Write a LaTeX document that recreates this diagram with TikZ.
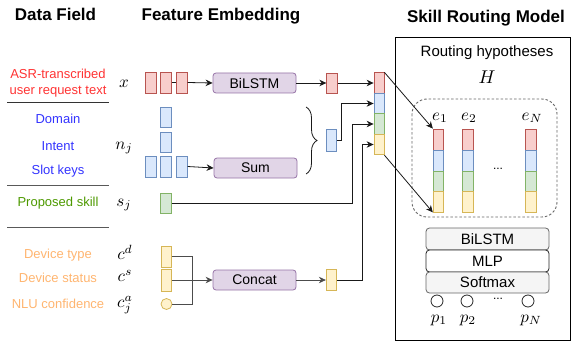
\documentclass[tikz,border=0pt]{standalone}
\usepackage{graphicx}
\usepackage{fontspec}
\setmainfont{Liberation Sans}
\usetikzlibrary{arrows.meta,decorations.pathreplacing,calc}
\definecolor{redF}{HTML}{F8CECC}\definecolor{redD}{HTML}{B85450}
\definecolor{bluF}{HTML}{DAE8FC}\definecolor{bluD}{HTML}{6C8EBF}
\definecolor{grnF}{HTML}{D5E8D4}\definecolor{grnD}{HTML}{82B366}
\definecolor{ylwF}{HTML}{FFF2CC}\definecolor{ylwD}{HTML}{D6B656}
\definecolor{purF}{HTML}{E1D5E7}\definecolor{purD}{HTML}{9673A6}
\definecolor{txtRed}{HTML}{FF3333}\definecolor{txtBlue}{HTML}{3333FF}
\definecolor{txtGreen}{HTML}{4D9900}\definecolor{txtOrange}{HTML}{FFB570}
\newcommand{\mathbig}[1]{\scalebox{1.7}{$#1$}}
\begin{document}
\begin{tikzpicture}[x=1pt,y=-1pt,
  vec/.style={rectangle,inner sep=0pt,minimum width=10.5pt,minimum height=21pt,line width=0.8pt},
  vr/.style={vec,fill=redF,draw=redD},
  vb/.style={vec,fill=bluF,draw=bluD},
  vg/.style={vec,fill=grnF,draw=grnD},
  vy/.style={vec,fill=ylwF,draw=ylwD},
  procbox/.style={rectangle,rounded corners=3pt,fill=purF,draw=purD,line width=0.8pt,minimum width=83pt,minimum height=20pt,inner sep=0pt,font=\fontsize{14}{16}\selectfont},
  graybox/.style={rectangle,rounded corners=3.5pt,fill=black!4,draw=black!60,line width=0.8pt,minimum width=123pt,inner sep=0pt,font=\fontsize{15}{17}\selectfont},
  lbl/.style={font=\fontsize{13}{15.5}\selectfont,align=center,inner sep=0pt},
  hdr/.style={font=\fontsize{17}{20}\selectfont\bfseries,inner sep=0pt,anchor=base},
  mth/.style={inner sep=0pt},
  conn/.style={draw=black!90,line width=0.8pt},
  arr/.style={conn,-{Stealth[length=7pt,width=6.5pt]}},
  sep/.style={draw=black!80,line width=1pt},
  dot/.style={circle,inner sep=0pt,minimum size=11pt,line width=0.8pt}
]
\useasboundingbox (0,0) rectangle (575,342);
% headers
\node[hdr] (h1) at (55.5,21) {Data Field};
\node[hdr] (h2) at (221,21) {Feature Embedding};
\node[hdr] (h3) at (486,22.5) {Skill Routing Model};
% left labels
\node[lbl,text=txtRed] (lasr) at (58,83) {ASR-transcribed\\user request text};
\node[lbl,text=txtBlue] (ldom) at (58,119) {Domain};
\node[lbl,text=txtBlue] (lint) at (58,146) {Intent};
\node[lbl,text=txtBlue] (lslot) at (58,171) {Slot keys};
\node[lbl,text=txtGreen] (lskill) at (58,203) {Proposed skill};
\node[lbl,text=txtOrange] (ldt) at (58,255) {Device type};
\node[lbl,text=txtOrange] (lds) at (58,278) {Device status};
\node[lbl,text=txtOrange] (lnlu) at (58,304) {NLU confidence};
\draw[sep] (7,103) -- (109,103);
\draw[sep,draw=black!65] (7,185) -- (109,185);
\draw[sep,draw=black!65] (7,227) -- (109,227);
% math labels
\node[mth] (mx) at (124,84) {\mathbig{x}};
\node[mth] (mn) at (124,148) {\mathbig{n_j}};
\node[mth] (ms) at (124,205) {\mathbig{s_j}};
\node[mth] (mcd) at (125,252) {\mathbig{c^d}};
\node[mth] (mcs) at (125,276) {\mathbig{c^s}};
\node[mth] (mca) at (125,305) {\mathbig{c^a_j}};
% x row
\node[vr] (x1) at (151,82.5) {};
\node[vr] (x2) at (166,82.5) {};
\node[vr] (x3) at (182,82.5) {};
% n_j
\node[vb,minimum height=20pt] (nd) at (166,117) {};
\node[vb,minimum height=20pt] (ni) at (166,142) {};
\node[vb] (n1) at (151,166.5) {};
\node[vb] (n2) at (166,166.5) {};
\node[vb] (n3) at (182,166.5) {};
% s_j
\node[vg,minimum height=20pt] (sk) at (166,203) {};
% context
\node[vy] (cd) at (166.5,256.5) {};
\node[vy,minimum height=22pt] (cs) at (166.5,280) {};
\node[dot,fill=ylwF,draw=ylwD] (ca) at (166.5,304) {};
% processors
\node[procbox] (bil) at (254.5,83) {BiLSTM};
\node[procbox] (sum) at (255.5,168) {Sum};
\node[procbox] (cat) at (254.5,280) {Concat};
% outputs
\node[vr,minimum height=20pt] (xo) at (332,83) {};
\node[vb,minimum height=22pt] (no) at (331.5,140) {};
\node[vy] (co) at (331.5,280) {};
% brace
\draw[conn,decorate,decoration={brace,amplitude=11pt}] (306,107) -- (306,174);
% stack
\node[vr,minimum width=10pt,minimum height=20.5pt] (sr) at (379,83) {};
\node[vb,minimum width=10pt,minimum height=20.5pt] (sb) at (379,103.5) {};
\node[vg,minimum width=10pt,minimum height=20.5pt] (sg) at (379,124) {};
\node[vy,minimum width=10pt,minimum height=20.5pt] (sy) at (379,144.5) {};
% connectors
\draw[conn] (x2.east) -- (x3.west);
\draw[arr] (x3.east) -- (bil.west);
\draw[arr] (n3.east) -- (sum.west);
\draw[arr] (bil.east) -- (xo.west);
\draw[arr] (xo.east) -- (sr.west);
\draw[arr] (no.east) -- ++(4,0) |- (sb.west);
\draw[arr] (sk.east) -- (352,203) |- (sg.west);
\draw[conn,draw=black!70] (cd.east) -- (192,256.5) |- (ca.east);
\draw[arr,draw=black!70] (cs.east) -- (cat.west);
\draw[arr,draw=black!70] (cat.east) -- (co.west);
\draw[arr] (co.east) -- (362,280) |- (sy.west);
% right box
\draw[line width=0.9pt] (395,37) rectangle (570,340);
\node[font=\fontsize{15}{18}\selectfont,inner sep=0pt] (rh) at (487,53) {Routing hypotheses};
\node[inner sep=0pt] (hh) at (487,77) {\scalebox{1.85}{$H$}};
\draw[dashed,draw=black!60,line width=0.9pt,dash pattern=on 2.5pt off 2pt,rounded corners=15pt] (412,99) rectangle (557,217);
\foreach \c/\xx in {a/438.5,b/468,c/531}{
  \node[vr,minimum height=21pt] (\c1) at (\xx,139.5) {};
  \node[vb,minimum height=21pt] (\c2) at (\xx,160.5) {};
  \node[vg,minimum height=20pt] (\c3) at (\xx,181) {};
  \node[vy,minimum height=21pt] (\c4) at (\xx,201.5) {};
}
\node[mth] (e1) at (440,118) {\mathbig{e_1}};
\node[mth] (e2) at (469,118) {\mathbig{e_2}};
\node[mth] (eN) at (532,118) {\mathbig{e_N}};
\node[font=\fontsize{12}{14}\selectfont,inner sep=0pt] (dd1) at (498,169) {...};
\draw[arr] (sr.north east) -- (a1.north west);
\draw[arr] (sy.south east) -- (a4.south west);
% bottom stack
\node[graybox,minimum height=22pt] (bb) at (487.5,239) {BiLSTM};
\node[graybox,fill=white,draw=black!85,minimum height=22pt] (mlp) at (487.5,261) {MLP};
\node[graybox,minimum height=21pt] (sm) at (487.5,282.5) {Softmax};
\node[dot,draw=black!85,fill=white,minimum size=12pt] (p1) at (437,301) {};
\node[dot,draw=black!85,fill=white,minimum size=12pt] (p2) at (467,301) {};
\node[dot,draw=black!85,fill=white,minimum size=12pt] (pN) at (528,301) {};
\node[font=\fontsize{12}{14}\selectfont,inner sep=0pt] (dd2) at (498,299) {...};
\node[mth] (lp1) at (439,320) {\mathbig{p_1}};
\node[mth] (lp2) at (468,320) {\mathbig{p_2}};
\node[mth] (lpN) at (531,320) {\mathbig{p_N}};
\end{tikzpicture}
\end{document}
